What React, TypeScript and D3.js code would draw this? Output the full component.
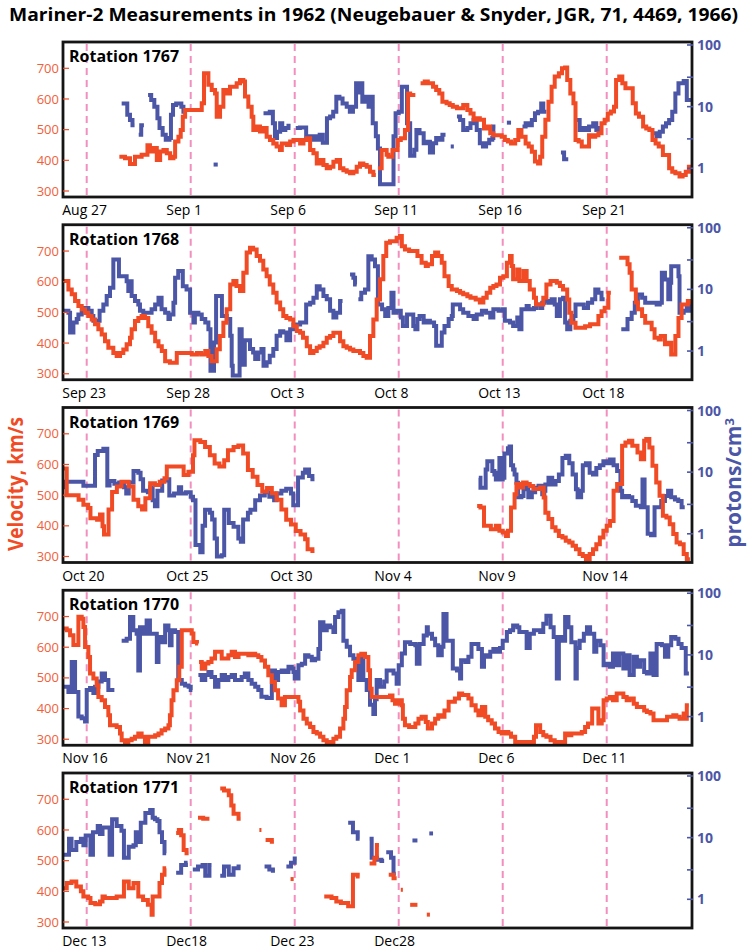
import React from "react";
import * as d3 from "d3";

type Pt = [number, number | null];

// day offsets are relative to the first dated dashed line of each panel
const rotations = [1767, 1768, 1769, 1770, 1771];

const dates1767 = ["Aug 27", "Sep 1", "Sep 6", "Sep 11", "Sep 16", "Sep 21"];
const dates1768 = ["Sep 23", "Sep 28", "Oct 3", "Oct 8", "Oct 13", "Oct 18"];
const dates1769 = ["Oct 20", "Oct 25", "Oct 30", "Nov 4", "Nov 9", "Nov 14"];
const dates1770 = ["Nov 16", "Nov 21", "Nov 26", "Dec 1", "Dec 6", "Dec 11"];
const dates1771 = ["Dec 13", "Dec18", "Dec 23", "Dec28"];

const gridDays = [0, 5, 10, 15, 20, 25];
const velTicks = [300, 400, 500, 600, 700];
const denTicks = [1, 10, 100];
const denMinorTicks = [3, 30];

// velocity, km/s
const vel1767: Pt[] = [[1.57,412],[1.84,407],[2.08,388],[2.32,412],[2.64,418],[2.92,449],[3.04,429],[3.21,440],[3.37,401],[3.53,429],[3.69,434],[3.85,423],[4.01,407],[4.17,412],[4.25,461],[4.41,477],[4.52,499],[4.62,542],[4.73,564],[5.53,586],[5.64,684],[5.85,646],[6.01,629],[6.17,618],[6.25,542],[6.41,575],[6.57,629],[6.73,618],[6.89,640],[7.21,651],[7.37,662],[7.53,657],[7.61,608],[7.77,575],[7.93,542],[8.01,499],[8.17,510],[8.33,494],[8.49,505],[8.65,477],[8.81,466],[8.97,455],[9.13,445],[9.29,434],[9.38,455],[9.62,450],[9.78,461],[9.94,466],[10.26,455],[10.42,466],[10.58,472],[10.74,434],[10.9,423],[11.06,390],[11.22,401],[11.38,385],[11.54,374],[11.7,379],[11.86,395],[12.02,401],[12.18,374],[12.34,368],[12.5,363],[12.66,358],[12.82,363],[12.98,379],[13.14,390],[13.3,385],[13.46,379],[13.62,363],[13.78,352],[13.9,null],[14.0,374],[14.18,434],[14.42,418],[14.5,412],[14.7,434],[14.95,466],[15.1,472],[15.3,499],[15.45,618],[15.55,613],[15.8,null],[16.05,651],[16.25,657],[16.4,651],[16.65,640],[16.8,629],[16.95,618],[17.1,591],[17.3,586],[17.45,580],[17.6,575],[17.8,570],[18.1,580],[18.3,564],[18.45,553],[18.6,532],[18.75,537],[18.9,532],[19.1,504],[19.25,510],[19.4,488],[19.55,482],[19.95,477],[20.1,466],[20.25,461],[20.4,455],[20.6,466],[20.75,499],[20.9,477],[21.1,455],[21.25,445],[21.4,428],[21.55,396],[21.7,390],[21.8,412],[21.9,477],[22.05,532],[22.2,591],[22.35,640],[22.5,673],[22.7,684],[22.85,700],[23.0,703],[23.1,662],[23.25,618],[23.4,586],[23.5,466],[23.65,461],[23.8,445],[24.15,482],[24.3,477],[24.45,482],[24.6,488],[24.75,521],[24.9,532],[25.05,553],[25.2,559],[25.35,575],[25.45,662],[25.6,673],[25.75,651],[25.9,635],[26.25,586],[26.4,553],[26.55,542],[26.75,510],[26.9,504],[27.05,499],[27.2,466],[27.35,455],[27.5,445],[27.7,417],[28.0,374],[28.15,363],[28.3,358],[28.5,347],[28.65,352],[28.8,363],[28.95,379],[29.2,null]];

const vel1768: Pt[] = [[-1.15,602],[-0.88,575],[-0.72,559],[-0.56,537],[-0.4,521],[-0.24,510],[-0.08,499],[0.08,488],[0.24,477],[0.4,461],[0.56,445],[0.72,428],[0.88,406],[1.04,385],[1.28,368],[1.44,358],[1.6,368],[1.76,379],[1.92,396],[2.08,417],[2.16,445],[2.32,472],[2.48,482],[2.64,488],[2.8,482],[2.96,455],[3.12,434],[3.29,406],[3.45,390],[3.61,374],[3.77,341],[4.0,336],[4.25,336],[4.33,368],[5.05,363],[5.3,368],[5.5,363],[5.7,374],[5.85,358],[6.0,341],[6.25,380],[6.4,423],[6.57,466],[6.73,510],[6.9,591],[7.05,602],[7.2,586],[7.37,570],[7.53,629],[7.69,695],[7.85,711],[8.0,705],[8.17,684],[8.33,668],[8.49,640],[8.65,618],[8.8,591],[8.97,564],[9.13,532],[9.3,510],[9.45,488],[9.6,482],[9.78,477],[9.94,455],[10.1,439],[10.26,434],[10.4,417],[10.58,390],[10.74,368],[10.9,374],[11.06,385],[11.2,390],[11.38,401],[11.54,417],[11.7,423],[11.86,434],[12.18,406],[12.34,390],[12.5,385],[12.66,379],[12.82,374],[13.14,368],[13.3,358],[13.46,352],[13.62,423],[13.78,477],[13.94,542],[14.1,608],[14.26,684],[14.4,727],[14.58,732],[14.9,743],[15.06,749],[15.15,716],[15.3,705],[15.5,700],[15.9,684],[16.1,662],[16.3,651],[16.4,657],[16.6,684],[16.75,695],[16.9,684],[17.07,662],[17.2,618],[17.4,586],[17.55,575],[17.8,570],[17.95,564],[18.1,559],[18.3,553],[18.45,548],[18.7,542],[18.9,532],[19.07,548],[19.23,564],[19.4,580],[19.55,586],[19.7,591],[19.87,613],[20.03,618],[20.2,662],[20.35,684],[20.43,651],[20.5,608],[20.7,640],[20.8,602],[21.0,635],[21.15,602],[21.3,575],[21.5,548],[21.6,526],[21.95,548],[22.1,591],[22.3,602],[22.6,597],[22.75,586],[22.9,575],[23.1,542],[23.2,499],[23.3,466],[23.5,450],[23.96,455],[24.2,461],[24.6,488],[24.75,504],[24.9,515],[25.08,564],[25.2,null],[25.6,678],[26.0,657],[26.1,629],[26.2,575],[26.4,532],[26.5,510],[26.7,488],[26.85,466],[27.16,445],[27.3,417],[27.5,412],[27.6,423],[27.8,396],[27.96,401],[28.1,363],[28.3,423],[28.45,482],[28.6,526],[28.9,537],[29.05,532],[29.2,null]];

const vel1769: Pt[] = [[-1.15,587],[-0.96,500],[-0.39,485],[-0.16,469],[0.07,458],[0.18,425],[0.5,420],[0.64,437],[0.76,399],[0.83,372],[1.05,453],[1.22,510],[1.45,528],[1.67,544],[2.02,528],[2.25,485],[2.48,464],[2.66,453],[2.82,490],[3.05,539],[3.28,533],[3.51,544],[3.74,555],[3.85,593],[4.66,566],[4.89,576],[5.11,630],[5.18,679],[5.46,673],[5.69,657],[5.92,630],[6.15,603],[6.38,593],[6.61,614],[6.79,646],[7.06,657],[7.29,662],[7.52,636],[7.75,582],[7.98,560],[8.21,533],[8.44,512],[8.67,523],[8.9,506],[9.13,485],[9.36,453],[9.59,420],[9.82,404],[10.05,383],[10.28,372],[10.5,356],[10.62,324],[10.85,318],[10.95,null],[18.77,465],[18.93,460],[19.1,400],[19.43,389],[19.67,400],[19.84,384],[20.0,378],[20.16,367],[20.25,384],[20.4,460],[20.57,503],[20.66,536],[20.82,525],[20.98,541],[21.15,536],[21.3,530],[21.47,520],[21.8,525],[21.97,492],[22.05,443],[22.2,422],[22.38,395],[22.54,384],[22.7,367],[22.87,362],[23.03,351],[23.2,346],[23.36,335],[23.52,324],[23.69,308],[23.85,302],[24.0,291],[24.18,308],[24.34,324],[24.5,340],[24.67,362],[24.84,384],[25.0,400],[25.16,416],[25.33,514],[25.5,536],[25.74,661],[25.9,672],[26.07,677],[26.23,661],[26.48,639],[26.64,617],[26.8,677],[26.9,683],[27.05,655],[27.2,596],[27.38,541],[27.54,498],[27.7,433],[27.87,427],[28.03,405],[28.2,373],[28.36,346],[28.52,340],[28.7,308],[28.85,291],[29.0,null]];

const vel1770: Pt[] = [[-1.15,661],[-0.96,655],[-0.8,639],[-0.64,607],[-0.4,699],[-0.24,693],[-0.16,666],[-0.08,601],[0.08,568],[0.16,514],[0.32,498],[0.48,476],[0.56,438],[0.72,427],[0.88,405],[1.04,378],[1.12,346],[1.44,340],[1.6,319],[1.68,297],[1.84,286],[2.0,297],[2.16,302],[2.32,308],[2.48,319],[2.64,308],[2.8,291],[2.96,308],[3.29,313],[3.45,319],[3.6,329],[3.77,335],[3.93,346],[4.0,378],[4.08,427],[4.17,460],[4.33,492],[4.45,536],[4.57,655],[5.05,645],[5.13,617],[5.3,612],[5.36,null],[5.4,552],[5.53,530],[5.7,547],[5.85,552],[6.0,563],[6.17,585],[6.49,563],[6.81,574],[6.97,585],[7.13,568],[7.3,579],[7.77,574],[7.93,579],[8.1,574],[8.25,568],[8.4,557],[8.57,536],[8.73,509],[8.9,487],[9.05,460],[9.2,433],[9.37,411],[9.53,438],[10.18,422],[10.26,394],[10.42,367],[10.58,351],[10.74,340],[10.9,324],[11.06,319],[11.22,308],[11.38,297],[11.54,286],[11.7,291],[11.86,302],[12.0,308],[12.18,335],[12.34,367],[12.42,405],[12.5,460],[12.66,503],[12.74,525],[12.9,552],[13.06,574],[13.2,579],[13.38,568],[13.54,525],[13.62,465],[13.7,438],[14.58,443],[14.7,427],[14.82,416],[15.0,427],[15.15,411],[15.2,367],[15.3,346],[15.5,340],[15.8,351],[15.95,367],[16.1,373],[16.3,356],[16.4,335],[16.6,351],[16.75,367],[16.9,378],[17.07,373],[17.2,394],[17.4,422],[17.7,433],[17.9,449],[18.05,444],[18.35,433],[18.5,411],[18.7,394],[18.83,378],[19.0,405],[19.16,373],[19.3,362],[19.47,351],[19.63,335],[19.8,324],[19.95,319],[20.1,324],[20.27,319],[20.4,308],[20.6,291],[21.5,308],[21.6,346],[21.8,324],[21.95,313],[22.1,308],[22.3,297],[22.5,291],[22.9,286],[23.0,319],[23.16,313],[23.3,319],[23.8,324],[23.96,340],[24.1,351],[24.3,400],[24.6,351],[24.76,362],[24.85,427],[25.0,433],[25.15,438],[25.3,427],[25.48,449],[25.8,438],[25.96,427],[26.1,433],[26.3,416],[26.45,405],[26.8,394],[26.93,389],[27.1,384],[27.25,362],[27.9,373],[28.2,378],[28.35,373],[28.5,367],[28.7,384],[28.8,367],[28.85,411],[28.95,null]];

const vel1771: Pt[] = [[-1.15,410],[-0.96,427],[-0.73,432],[-0.5,416],[-0.28,400],[-0.16,383],[0.07,378],[0.18,362],[0.41,358],[0.64,367],[0.76,383],[0.87,378],[1.44,383],[1.79,432],[2.02,410],[2.25,427],[2.48,383],[2.71,372],[2.94,356],[3.12,324],[3.17,383],[3.5,427],[3.62,454],[3.74,475],[3.82,null],[4.3,590],[4.43,600],[4.54,583],[4.66,535],[4.8,524],[4.9,null],[5.35,640],[5.6,637],[5.9,null],[6.42,735],[6.6,729],[6.83,713],[6.95,680],[7.06,653],[7.3,637],[7.4,null],[8.3,600],[8.4,null],[8.6,567],[8.9,562],[9.0,null],[9.8,440],[9.95,null],[11.42,383],[11.77,378],[12.0,367],[12.22,362],[12.57,351],[12.8,454],[13.03,448],[13.12,null],[13.6,491],[13.83,508],[13.95,551],[14.05,null],[14.52,454],[14.75,443],[14.9,null],[15.1,405],[15.2,null],[15.55,356],[15.8,356],[15.9,null],[16.35,324],[16.5,null]];

// proton density, protons/cm^3
const den1767: Pt[] = [[1.68,11.3],[1.95,7.4],[2.08,6.1],[2.2,5.0],[2.3,null],[2.5,3.5],[2.62,5.0],[2.75,null],[2.95,15.4],[3.1,12.8],[3.25,10],[3.4,6.5],[3.5,4.5],[3.65,3.5],[3.8,2.9],[3.98,3.1],[4.05,7.4],[4.15,10.6],[4.3,11.3],[4.55,10],[4.65,8.3],[4.75,null],[6.1,1.15],[6.3,null],[8.5,7.8],[8.8,8.3],[8.95,5.4],[9.05,3.1],[9.15,3.9],[9.3,5.4],[9.4,4.2],[9.55,4.5],[9.7,4.9],[9.8,null],[10.05,4.5],[10.25,4.6],[10.55,3.3],[10.75,2.9],[10.9,3.3],[11.05,2.9],[11.2,3.5],[11.35,2.6],[11.55,6.5],[11.7,6.9],[11.85,8.3],[12.0,14.5],[12.15,13.6],[12.3,11.3],[12.5,10],[12.65,8.3],[12.8,10],[12.95,24],[13.1,17],[13.2,24],[13.25,12],[13.4,14.5],[13.55,10],[13.6,14.5],[13.75,5.4],[13.9,3.3],[14.0,2.1],[14.1,0.55],[14.75,3.3],[14.85,7.8],[15.0,8.3],[15.15,21],[15.4,5.4],[15.55,1.6],[15.75,2.0],[15.85,4.2],[16.0,3.7],[16.2,2.56],[16.35,2.7],[16.5,1.8],[16.65,2.56],[16.8,3.1],[16.95,2.9],[17.1,3.5],[17.25,null],[17.5,2.26],[17.65,null],[17.8,6.9],[17.95,6.1],[18.1,4.2],[18.3,4.5],[18.45,5.4],[18.6,6.1],[18.75,4.2],[18.9,2.56],[19.05,2.26],[19.2,2.56],[19.35,2.9],[19.5,3.1],[19.55,4.76],[19.65,null],[20.2,5.5],[20.4,null],[20.95,4.76],[21.1,5.4],[21.25,5.0],[21.4,6.1],[21.55,7.8],[21.7,8.3],[21.85,11.3],[21.95,8.3],[22.1,null],[22.8,1.8],[22.95,1.4],[23.15,null],[23.55,6.1],[23.7,4.2],[23.85,4.5],[24.0,4.2],[24.15,4.76],[24.35,5.4],[24.5,4.2],[24.65,4.5],[24.8,null],[27.25,3.7],[27.4,3.3],[27.55,3.9],[27.7,4.76],[27.85,5.4],[28.0,6.1],[28.15,8.3],[28.3,16.4],[28.45,24],[28.7,26],[28.85,12.8],[29.2,null]];

const den1768: Pt[] = [[-1.15,4.5],[-0.88,4.2],[-0.8,2.0],[-0.64,2.9],[-0.48,3.3],[-0.4,3.9],[-0.24,4.2],[-0.08,5.0],[0.08,4.5],[0.24,3.7],[0.32,3.1],[0.62,4.5],[0.8,5.7],[0.96,7.8],[1.12,10.6],[1.28,30.5],[1.55,16.4],[1.92,13.6],[2.0,9.4],[2.08,13.6],[2.16,7.8],[2.32,6.5],[2.48,5.7],[2.56,4.5],[2.72,4.2],[3.12,4.76],[3.29,5.7],[3.45,7.35],[3.6,4.76],[3.77,4.2],[3.93,3.3],[4.0,3.9],[4.17,6.1],[4.25,15.4],[4.4,19.8],[4.62,11.3],[4.8,10],[4.97,4.2],[5.13,2.9],[5.2,4.2],[5.37,3.9],[5.53,3.3],[5.7,2.9],[5.85,2.26],[5.95,0.48],[6.12,1.38],[6.22,7.8],[6.5,3.7],[6.73,3.3],[6.9,1.77],[6.97,0.58],[7.02,0.4],[7.35,2.26],[7.45,0.6],[7.6,1.5],[7.85,1.08],[8.0,0.95],[8.1,0.74],[8.25,0.95],[8.4,1.08],[8.5,0.58],[8.65,0.66],[8.8,0.84],[8.97,1.08],[9.13,1.77],[9.3,2.1],[9.45,2.0],[9.6,1.5],[9.78,2.26],[9.94,2.7],[10.26,2.9],[10.55,5.7],[10.74,6.1],[10.9,7.35],[11.06,11.3],[11.2,10],[11.38,7.8],[11.54,6.9],[11.7,4.5],[11.86,3.5],[12.0,4.2],[12.18,6.5],[12.3,null],[12.66,17.5],[12.82,15.4],[12.9,12],[12.98,null],[13.06,6.9],[13.2,8.8],[13.38,10],[13.54,34.5],[13.7,30.5],[13.86,23.8],[14.0,5.7],[14.2,4.76],[14.35,3.7],[14.5,5.0],[14.65,8.8],[14.75,4.2],[14.9,4.5],[15.1,3.5],[15.2,2.56],[15.4,3.9],[15.7,2.56],[15.8,2.26],[15.9,3.3],[16.0,3.7],[16.2,2.9],[16.35,3.1],[16.5,2.9],[16.7,2.56],[16.8,1.22],[17.07,2.0],[17.2,2.56],[17.4,3.3],[17.55,3.7],[17.6,5.7],[17.95,4.76],[18.1,4.2],[18.35,3.7],[18.6,3.3],[18.75,3.9],[19.0,4.5],[19.2,4.2],[19.4,3.5],[19.55,4.76],[19.8,4.5],[20.0,4.76],[20.1,3.1],[20.35,2.9],[20.5,2.56],[20.7,3.5],[20.8,2.26],[20.9,4.76],[21.15,5.4],[21.25,4.76],[21.5,5.0],[21.6,5.7],[21.8,5.0],[21.9,6.1],[22.0,6.5],[22.2,6.1],[22.35,6.9],[22.5,5.7],[22.6,3.7],[22.75,6.9],[22.9,7.35],[23.0,2.9],[23.1,2.26],[23.25,3.1],[23.4,3.7],[23.5,5.7],[23.9,5.0],[24.1,6.1],[24.3,6.9],[24.45,10],[24.6,8.8],[24.75,6.9],[24.9,null],[25.7,2.26],[26.0,3.3],[26.2,4.2],[26.35,6.1],[26.5,8.3],[26.7,7.35],[26.85,6.1],[27.4,5.7],[27.55,6.1],[27.65,18.6],[27.8,14.5],[27.96,6.9],[28.05,12.8],[28.1,23.8],[28.45,16.4],[28.5,4.2],[28.7,4.5],[28.85,5.4],[29.0,4.5],[29.2,null]];

const den1769: Pt[] = [[-1.15,5.7],[-1.0,7.0],[-0.16,6.0],[0.4,19],[0.53,22],[0.8,24],[0.99,6.1],[1.1,7.2],[1.33,6.5],[1.56,6.8],[1.79,5.7],[1.9,4.5],[2.02,6.8],[2.25,10.4],[2.48,9.8],[2.59,7.7],[2.71,5.0],[2.94,4.7],[3.05,5.7],[3.17,3.5],[3.28,2.8],[3.4,5.0],[3.63,7.3],[3.85,7.7],[3.97,4.2],[4.2,4.5],[4.43,5.7],[4.54,4.5],[4.77,4.7],[5.0,4.0],[5.11,3.5],[5.23,0.66],[5.46,0.5],[5.57,1.35],[5.69,2.45],[5.92,2.2],[6.03,1.7],[6.15,0.84],[6.26,0.43],[6.49,0.45],[6.61,2.45],[6.83,1.5],[7.06,1.3],[7.29,0.84],[7.41,0.74],[7.52,1.7],[7.75,2.2],[7.87,2.45],[8.1,3.5],[8.33,4.2],[8.56,4.7],[8.78,4.0],[9.01,3.5],[9.13,4.5],[9.36,5.0],[9.59,5.4],[9.82,4.5],[9.93,2.9],[10.16,8.2],[10.39,9.8],[10.5,11],[10.69,8.7],[10.85,7.7],[10.95,null],[18.85,8.1],[18.93,5.6],[19.18,11],[19.26,15],[19.5,10.4],[19.6,9.2],[19.67,7.6],[19.75,9.8],[19.84,17],[19.92,7.6],[20.0,8.1],[20.08,20],[20.25,24.5],[20.33,26],[20.4,13],[20.5,11],[20.57,9.2],[20.66,6.7],[20.74,3.9],[20.9,4.1],[21.0,5.6],[21.15,5.3],[21.23,3.9],[21.4,4.7],[21.56,5.6],[21.72,6.0],[21.9,4.4],[22.0,5.0],[22.05,6.3],[22.2,8.1],[22.38,6.3],[22.54,7.2],[22.7,9.2],[22.87,17],[23.03,18.5],[23.2,14],[23.36,9.2],[23.52,5.3],[23.6,3.9],[23.77,5.0],[23.85,13],[24.0,14],[24.18,9.8],[24.34,9.2],[24.5,11.7],[24.67,13],[24.84,15],[25.0,14],[25.16,16],[25.33,13],[25.5,10.4],[25.66,5.0],[25.74,3.9],[25.9,4.1],[26.07,3.9],[26.23,3.4],[26.4,2.85],[26.64,2.7],[26.72,7.6],[26.82,2.7],[26.97,1.0],[27.13,0.95],[27.3,2.7],[27.62,3.4],[27.8,4.1],[27.95,5.0],[28.1,3.9],[28.28,3.6],[28.44,3.4],[28.6,2.7],[28.75,null]];

const den1770: Pt[] = [[-1.15,3.05],[-0.88,2.5],[-0.72,7.7],[-0.56,2.5],[-0.4,1.0],[-0.24,0.94],[-0.08,0.83],[0.0,2.7],[0.16,2.9],[0.32,2.4],[0.4,3.05],[0.56,3.7],[0.72,5.0],[0.88,3.9],[1.04,2.7],[1.33,null],[1.68,17],[1.92,18.3],[2.08,41],[2.24,25],[2.4,22],[2.48,5.6],[2.56,28],[2.72,22],[2.88,36],[3.04,22],[3.37,7.7],[3.45,19.5],[3.6,16],[3.77,30],[3.93,25],[4.0,14.3],[4.08,25],[4.25,23.5],[4.4,3.9],[4.57,3.4],[4.73,3.2],[4.9,3.05],[5.0,2.7],[5.08,null],[5.37,4.7],[5.53,3.9],[5.7,4.7],[5.85,5.3],[6.0,4.4],[6.17,3.05],[6.33,3.9],[6.49,4.7],[6.65,3.9],[6.81,4.4],[6.97,4.7],[7.13,3.9],[7.45,4.4],[7.6,5.0],[7.77,3.9],[7.93,3.4],[8.1,3.05],[8.25,2.7],[8.4,2.1],[8.65,2.0],[8.9,5.6],[9.05,3.9],[9.2,5.3],[9.37,5.6],[9.53,5.3],[9.7,6.4],[9.86,6.0],[9.94,5.3],[10.0,4.15],[10.18,6.8],[10.34,7.2],[10.5,9.9],[10.66,9.3],[10.82,8.2],[10.98,8.7],[11.14,12.5],[11.22,34],[11.38,25],[11.54,30],[11.7,28],[11.86,23.5],[11.94,41],[12.1,49],[12.26,52],[12.34,17],[12.5,13.5],[12.66,9.9],[12.82,8.7],[12.98,7.7],[13.06,3.9],[13.2,8.7],[13.3,3.9],[13.46,2.7],[13.62,1.55],[13.78,1.1],[13.86,1.9],[13.94,3.9],[14.1,3.05],[14.3,3.7],[14.42,5.6],[14.75,5.0],[14.9,3.4],[15.0,6.8],[15.15,10.5],[15.3,16],[15.55,15],[15.8,14.3],[15.87,7.2],[16.0,15],[16.2,20.6],[16.35,28],[16.4,22],[16.6,18.3],[16.75,14.3],[16.9,9.9],[17.07,13.5],[17.15,46],[17.3,17],[17.6,6.0],[17.8,5.6],[17.95,4.15],[18.0,8.2],[18.2,7.7],[18.35,9.3],[18.5,15],[18.83,12.5],[19.0,6.4],[19.1,9.9],[19.25,9.3],[19.4,11.2],[19.55,12.5],[19.7,11.2],[19.87,13],[20.0,17],[20.2,23.5],[20.35,25],[20.5,30],[20.7,28],[20.8,23.5],[21.15,13],[21.3,22],[21.5,25],[21.8,23.5],[21.95,32],[22.1,43],[22.3,28],[22.45,19.5],[22.6,4.15],[22.7,19.5],[22.85,17],[23.0,41],[23.16,28],[23.3,16],[23.5,4.15],[23.56,13],[23.7,17],[23.9,22],[24.05,28],[24.2,22],[24.4,11.2],[24.5,17],[24.7,14.3],[24.85,6.8],[25.0,7.2],[25.15,6.4],[25.3,10.5],[25.48,6.8],[25.6,10.5],[25.8,6.0],[25.96,9.9],[26.1,4.7],[26.3,9.3],[26.45,6.4],[26.6,8.2],[26.8,5.3],[26.93,5.0],[27.1,10.5],[27.25,4.7],[27.4,15],[27.65,14.3],[27.8,9.3],[27.96,14.3],[28.1,19.5],[28.3,18.3],[28.45,15],[28.6,13],[28.8,5.0],[28.95,null]];

const den1771: Pt[] = [[-1.15,5.3],[-0.85,9.6],[-0.73,6.3],[-0.5,8.5],[-0.28,9.6],[-0.16,7.5],[-0.05,10.8],[0.18,5.3],[0.3,12.2],[0.53,15.5],[0.64,11.5],[0.76,14.6],[1.1,5.3],[1.22,19.8],[1.44,15.5],[1.67,12.9],[1.79,4.7],[2.02,7.1],[2.25,7.5],[2.36,12.2],[2.48,8.5],[2.6,17.5],[2.82,25],[3.05,28],[3.17,21],[3.28,19.8],[3.4,18.6],[3.5,12.2],[3.62,8.5],[3.74,5.6],[3.82,null],[4.3,2.7],[4.54,3.6],[4.77,3.9],[4.85,null],[5.1,3.05],[5.35,3.4],[5.57,3.6],[5.7,2.4],[5.9,3.6],[6.0,null],[6.42,2.4],[6.6,3.4],[6.83,2.5],[7.06,3.2],[7.3,3.4],[7.4,null],[8.55,3.4],[8.78,3.05],[8.95,2.9],[9.05,null],[9.6,3.4],[9.82,3.9],[10.0,4.6],[10.1,null],[12.57,17.5],[12.8,12.2],[13.03,9.6],[13.12,null],[13.6,9.6],[13.7,4.7],[13.95,4.4],[14.17,4.2],[14.3,null],[14.4,5.8],[14.63,4.7],[14.75,2.6],[14.86,null],[15.66,9.0],[15.9,null],[16.47,11.7],[16.65,null]];

const panelDates = [dates1767, dates1768, dates1769, dates1770, dates1771];
const panelVel = [vel1767, vel1768, vel1769, vel1770, vel1771];
const panelDen = [den1767, den1768, den1769, den1770, den1771];

const RED = "#f04b25";
const RED_TXT = "#f2603a";
const BLUE = "#4b56a7";
const PINK = "#f28fbd";
const FONT = "'Open Sans', 'Noto Sans', sans-serif";

const W = 747;
const H = 951;
const frameLeft = 63;
const frameRight = 692;
const panelH = 155;
const panelTop = (i: number) => 42 + i * 182.75;

const x = d3.scaleLinear().domain([-1.14, 29.1]).range([frameLeft, frameRight]);

// break a series at its null markers into runs of steps
const toRuns = (pts: Pt[]) => {
  const runs: [number, number][][] = [];
  let cur: [number, number][] = [];
  for (const [d, v] of pts) {
    if (v == null) {
      if (cur.length) {
        cur.push([d, cur[cur.length - 1][1]]);
        runs.push(cur);
      }
      cur = [];
    } else cur.push([d, v]);
  }
  if (cur.length) runs.push(cur);
  return runs;
};

const Panel = ({ i }: { i: number }) => {
  const top = panelTop(i);
  const yV = d3.scaleLinear().domain([300, 700]).range([top + 149, top + 26.3]);
  const yN = d3.scaleLog().domain([1, 100]).range([top + 126.3, top + 3]);

  const velLine = d3
    .line<[number, number]>()
    .x((d) => x(d[0]))
    .y((d) => yV(d[1]))
    .curve(d3.curveStepAfter);
  const denLine = d3
    .line<[number, number]>()
    .x((d) => x(d[0]))
    .y((d) => yN(d[1]))
    .curve(d3.curveStepAfter);

  const clipId = `clip-${i}`;

  return (
    <g>
      <defs>
        <clipPath id={clipId}>
          <rect x={frameLeft} y={top} width={frameRight - frameLeft} height={panelH} />
        </clipPath>
      </defs>

      {gridDays.map((d) => (
        <line
          key={d}
          x1={x(d)}
          x2={x(d)}
          y1={top + 2}
          y2={top + panelH - 1}
          stroke={PINK}
          strokeWidth={2}
          strokeDasharray="7 5"
        />
      ))}

      <g clipPath={`url(#${clipId})`} fill="none" strokeLinejoin="miter">
        {toRuns(panelDen[i]).map((run, k) => (
          <path key={`n${k}`} d={denLine(run)!} stroke={BLUE} strokeWidth={4} />
        ))}
        {toRuns(panelVel[i]).map((run, k) => (
          <path key={`v${k}`} d={velLine(run)!} stroke={RED} strokeWidth={4} />
        ))}
      </g>

      <rect
        x={frameLeft}
        y={top}
        width={frameRight - frameLeft}
        height={panelH}
        fill="none"
        stroke="#151515"
        strokeWidth={2.8}
      />

      {velTicks.map((v) => (
        <g key={v}>
          <line x1={frameLeft} x2={frameLeft + 6} y1={yV(v)} y2={yV(v)} stroke={RED} strokeWidth={1.2} />
          <text
            x={59}
            y={yV(v)}
            dy="0.35em"
            textAnchor="end"
            fontSize={13}
            fill={RED_TXT}
            fontFamily={FONT}
          >
            {v}
          </text>
        </g>
      ))}

      {denTicks.concat(denMinorTicks).map((n) => (
        <line key={n} x1={frameRight - 5} x2={frameRight + 1} y1={yN(n)} y2={yN(n)} stroke={BLUE} strokeWidth={1.6} />
      ))}
      {denTicks.map((n) => (
        <text
          key={n}
          x={697}
          y={yN(n)}
          dy="0.36em"
          fontSize={14}
          fontWeight={700}
          fill={BLUE}
          fontFamily={FONT}
        >
          {n}
        </text>
      ))}

      <text x={69} y={top + 20} fontSize={16} fontWeight={700} fill="#000" fontFamily={FONT}>
        Rotation {rotations[i]}
      </text>

      {panelDates[i].map((lab, k) => (
        <text
          key={lab}
          x={x(gridDays[k]) - 24.5}
          y={top + panelH + 18}
          fontSize={14}
          fill="#000"
          fontFamily={FONT}
        >
          {lab}
        </text>
      ))}
    </g>
  );
};

export default function App() {
  return (
    <svg
      width={W}
      height={H}
      viewBox={`0 0 ${W} ${H}`}
      style={{ position: "absolute", left: 0, top: 0, display: "block", background: "#fff" }}
    >
      <rect width={W} height={H} fill="#fff" />
      <text
        x={9}
        y={21}
        fontSize={18}
        fontWeight={700}
        fill="#000"
        fontFamily={FONT}
        textLength={729}
        lengthAdjust="spacingAndGlyphs"
      >
        Mariner-2 Measurements in 1962 (Neugebauer &amp; Snyder, JGR, 71, 4469, 1966)
      </text>

      {rotations.map((_, i) => (
        <Panel key={i} i={i} />
      ))}

      <text
        transform="translate(16,484) rotate(-90)"
        textAnchor="middle"
        dy="0.35em"
        fontSize={21}
        fontWeight={700}
        fill={RED}
        fontFamily={FONT}
        textLength={134}
        lengthAdjust="spacingAndGlyphs"
      >
        Velocity, km/s
      </text>
      <text
        transform="translate(734,483) rotate(-90)"
        textAnchor="middle"
        dy="0.35em"
        fontSize={21}
        fontWeight={700}
        fill={BLUE}
        fontFamily={FONT}
      >
        protons/cm<tspan fontSize={13} dy="-0.55em">3</tspan>
      </text>
    </svg>
  );
}
